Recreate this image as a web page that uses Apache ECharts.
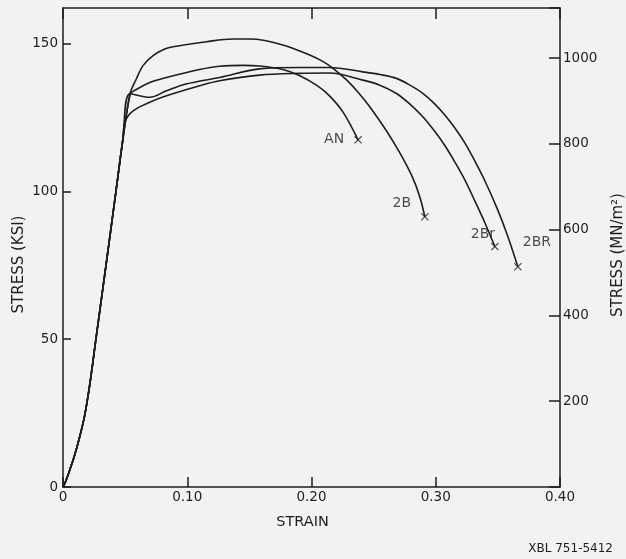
<!doctype html>
<html>
<head>
<meta charset="utf-8">
<title>Stress - strain</title>
<script src="https://cdn.jsdelivr.net/npm/echarts@6/dist/echarts.min.js"></script>
<style>
html,body{margin:0;padding:0;background:#f2f2f0;}
#chart{width:626px;height:559px;}
</style>
</head>
<body>
<div id="chart"></div>
<script>
// [strain, stress ksi]
var elastic = [[0,0],[0.0022,2.0],[0.0054,5.7],[0.0094,10.8],[0.0134,16.9],[0.0175,24.3],[0.0215,34.5],[0.0263,49.4],[0.0341,73.4],[0.0424,99.3],[0.0481,117.3]];
var curveAN = [[0.054,133],[0.0564,133.8],[0.0698,136.8],[0.0833,138.5],[0.110,141.2],[0.126,142.3],[0.145,142.6],[0.158,142.4],[0.177,141.2],[0.1906,139.1],[0.204,135.9],[0.2145,132.3],[0.2255,126.7],[0.2375,117.4]];
var curve2B = [[0.054,133],[0.059,138],[0.0644,142.5],[0.0725,145.9],[0.0819,148.1],[0.0886,148.9],[0.1155,150.6],[0.1366,151.5],[0.1503,151.5],[0.1624,151.0],[0.1769,149.5],[0.1874,148.0],[0.1986,146.1],[0.2083,144.1],[0.2171,141.7],[0.2284,137.6],[0.2373,133.6],[0.2469,128.6],[0.2604,120.4],[0.2711,113.0],[0.2808,105.2],[0.2872,98.1],[0.2912,91.4]];
var curve2Br = [[0.0499,123.5],[0.0564,127.2],[0.0698,130.1],[0.0833,132.3],[0.110,135.7],[0.126,137.4],[0.158,139.3],[0.19,139.9],[0.2145,140],[0.2413,137.6],[0.2550,135.9],[0.2684,133.1],[0.2792,129.5],[0.2896,125.2],[0.2993,120.2],[0.3073,115.5],[0.3154,109.9],[0.3235,103.8],[0.3315,96.7],[0.3396,89.3],[0.3476,81.3]];
var curve2BR = [[0.054,133],[0.0698,131.8],[0.0833,134],[0.099,136.3],[0.126,138.5],[0.158,141.4],[0.19,141.9],[0.2145,141.9],[0.2413,140.4],[0.2550,139.5],[0.2684,138.2],[0.2792,135.9],[0.2896,133.1],[0.2993,129.5],[0.3073,125.8],[0.3154,121.4],[0.3235,116.3],[0.3315,110.2],[0.3396,103.5],[0.3492,94.4],[0.3573,85.6],[0.3661,74.5]];
var names = ['AN', '2B', '2Br', '2BR'];
var xTickLabels = ['0', '0.10', '0.20', '0.30', '0.40'];

var ksiToMpa = 6.894757;
var yMax = 162;
var ink = '#1e1e1e';
var font = 'DejaVu Sans';

var curves = [curveAN, curve2B, curve2Br, curve2BR];
// where each label sits relative to its fracture mark
var labelOffsets = [[-24, -1], [-23, -13], [-12, -12], [19, -24]];

var chart = echarts.init(document.getElementById('chart'));

var series = curves.map(function (c, i) {
  return {
    name: names[i],
    type: 'line',
    data: elastic.concat(c),
    smooth: 0.35,
    showSymbol: false,
    lineStyle: {color: ink, width: 1.6},
    z: 2
  };
});

series.push({
  type: 'scatter',
  symbol: 'path://M0,1L1,0L5,4L9,0L10,1L6,5L10,9L9,10L5,6L1,10L0,9L4,5Z',
  symbolSize: 8,
  itemStyle: {color: ink},
  data: curves.map(function (c, i) {
    return {
      name: names[i],
      value: c[c.length - 1],
      label: {show: true, position: 'inside', offset: labelOffsets[i], formatter: names[i],
        color: ink, fontSize: 14, fontFamily: font}
    };
  }),
  z: 3
});

var axisLine = {onZero: false, lineStyle: {color: ink, width: 1.5}};
var tick = function (len) {
  return {inside: true, length: len, lineStyle: {color: ink, width: 1.5}};
};

var option = {
  backgroundColor: '#f2f2f0',
  animation: false,
  grid: {left: 63, right: 66, top: 8, bottom: 72, outerBoundsMode: 'none', containLabel: false},
  xAxis: [{
    type: 'value', min: 0, max: 0.4, interval: 0.1,
    axisLine: axisLine,
    axisTick: tick(10),
    axisLabel: {margin: 3, color: ink, fontSize: 13.5, fontFamily: font,
      formatter: function (v) { return xTickLabels[Math.round(v * 10)]; }},
    splitLine: {show: false},
    name: 'STRAIN', nameLocation: 'middle', nameGap: 28, nameMoveOverlap: false,
    nameTextStyle: {color: ink, fontSize: 14.5, fontFamily: font, padding: [0, 18, 0, 0]}
  }, {
    type: 'value', position: 'top', min: 0, max: 0.4, interval: 0.1,
    axisLine: axisLine,
    axisTick: tick(11),
    axisLabel: {show: false},
    splitLine: {show: false}
  }],
  yAxis: [{
    type: 'value', min: 0, max: yMax, interval: 50,
    axisLine: axisLine,
    axisTick: tick(8),
    axisLabel: {margin: 5, color: ink, fontSize: 13.5, fontFamily: font, showMaxLabel: false,
      formatter: function (v) { return v % 50 === 0 ? String(v) : ''; }},
    splitLine: {show: false},
    name: 'STRESS (KSI)', nameLocation: 'middle', nameGap: 36, nameMoveOverlap: false,
    nameTextStyle: {color: ink, fontSize: 15, fontFamily: font, padding: [0, 34, 0, 0]}
  }, {
    type: 'value', position: 'right', min: 0, max: yMax * ksiToMpa, interval: 200,
    axisLine: axisLine,
    axisTick: tick(11),
    axisLabel: {margin: 3, color: ink, fontSize: 13.5, fontFamily: font,
      formatter: function (v) { return (v > 0 && v % 200 === 0) ? String(v) : ''; }},
    splitLine: {show: false},
    name: 'STRESS (MN/m²)', nameLocation: 'middle', nameGap: 51, nameMoveOverlap: false,
    nameTextStyle: {color: ink, fontSize: 15, fontFamily: font, padding: [0, 15, 0, 0]}
  }],
  graphic: [{
    type: 'text', right: 13, bottom: 4,
    style: {text: 'XBL 751-5412', fill: ink, fontSize: 12, fontFamily: font}
  }],
  series: series
};

chart.setOption(option);
</script>
</body>
</html>
